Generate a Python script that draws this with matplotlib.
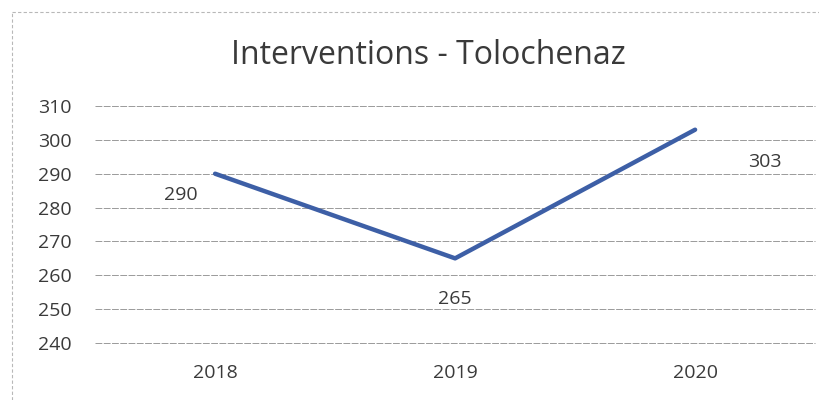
import matplotlib.pyplot as plt

# data
years = ['2018', '2019', '2020']
interventions = [290, 265, 303]
y_ticks = [240, 250, 260, 270, 280, 290, 300, 310]

plt.rcParams['font.family'] = ['Open Sans', 'DejaVu Sans']

fig = plt.figure(figsize=(8.2, 4.0), dpi=100)
ax = fig.add_axes([0.116, 0.1425, 0.878, 0.5925])

x = range(len(years))
ax.plot(x, interventions, color='#3d5fa6', linewidth=3.2, solid_capstyle='round')

# étiquettes de valeurs (positions comme sur l'original)
offsets = [(-25, -15), (0, -29), (50, -23)]
for i, v in enumerate(interventions):
    ax.annotate(str(v), (i, v), xytext=offsets[i], textcoords='offset points',
                ha='center', va='center', fontsize=14, color='#3a3a3a')

ax.set_xlim(-0.5, 2.5)
ax.set_ylim(240, 310)
ax.set_yticks(y_ticks)
ax.set_xticks(list(x))
ax.set_xticklabels(years)
ax.tick_params(axis='both', length=0, labelsize=14, labelcolor='#3a3a3a')
ax.tick_params(axis='y', pad=17)
ax.tick_params(axis='x', pad=15)
ax.grid(axis='y', color='#9a9a9a', linewidth=0.7, linestyle=(0, (7, 1.5)))
for gl in ax.get_ygridlines():
    gl.set_clip_on(False)
for s in ax.spines.values():
    s.set_visible(False)

fig.text(0.523, 0.862, 'Interventions - Tolochenaz', ha='center', va='center',
         fontsize=23, color='#3a3a3a')

# bord du graphique (scan)
fig.add_artist(plt.Line2D([0.015, 0.015], [0.0, 0.97], color='#b8b8b8', linewidth=0.8, linestyle=(0, (3, 2))))
fig.add_artist(plt.Line2D([0.015, 1.0], [0.97, 0.97], color='#b8b8b8', linewidth=0.8, linestyle=(0, (3, 2))))

fig.savefig('out.png', dpi=100, facecolor='white')
